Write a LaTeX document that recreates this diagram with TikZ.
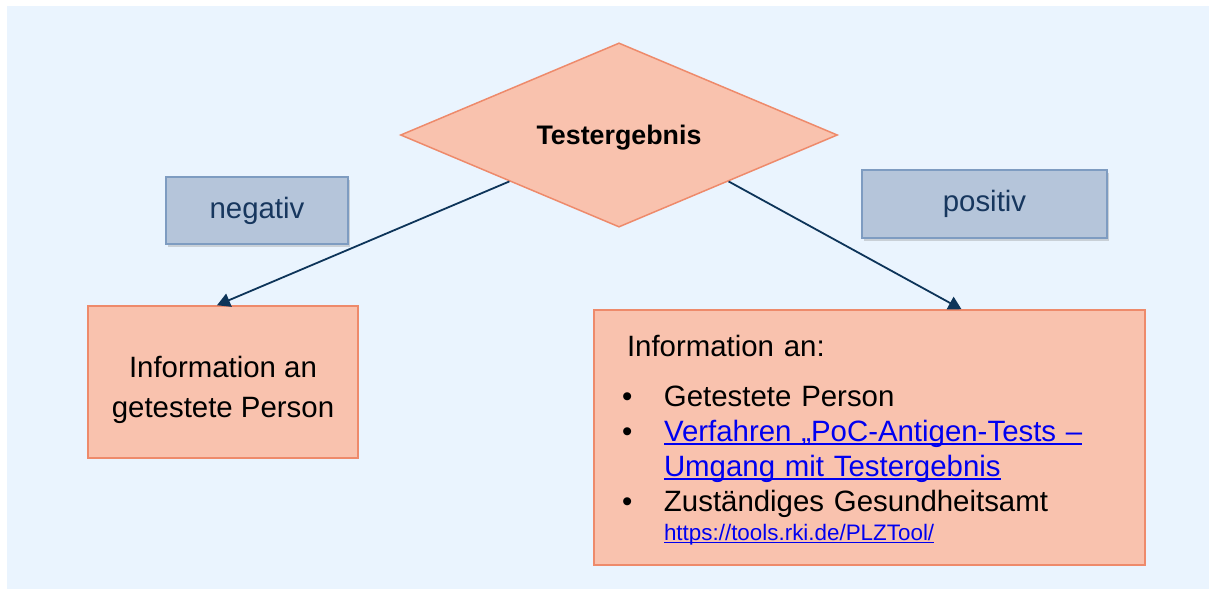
\documentclass[tikz,border=0pt]{standalone}
\usepackage{fontspec}
\setmainfont{Liberation Sans}
\usetikzlibrary{arrows.meta,shapes.geometric,shadows}

\definecolor{bgblue}{HTML}{EAF4FE}
\definecolor{boxfill}{HTML}{F9C2AE}
\definecolor{boxline}{HTML}{EE8A6B}
\definecolor{tagfill}{HTML}{B5C5DA}
\definecolor{tagline}{HTML}{7E9CC1}
\definecolor{tagtext}{HTML}{17375E}
\definecolor{linenavy}{HTML}{0D3459}
\definecolor{linkblue}{HTML}{0000F0}

\newsavebox{\linkbox}
\newcommand{\itembullet}{\makebox[18.5pt][l]{\hspace*{-2.5pt}\textbullet}}
\newcommand{\weblink}[1]{\sbox{\linkbox}{\color{linkblue}#1}%
  {\color{linkblue}\rlap{\rule[-0.1em]{\wd\linkbox}{0.055em}}}\usebox{\linkbox}}

\begin{document}
\begin{tikzpicture}[
  x=0.5pt, y=-0.5pt,
  decision/.style={diamond, draw=boxline, fill=boxfill, line width=0.75pt, inner sep=0pt,
    minimum width=218.5pt, minimum height=89pt, text depth=0pt,
    font=\bfseries\fontsize{13.4}{16}\selectfont},
  box/.style={draw=boxline, fill=boxfill, line width=0.75pt, align=center, inner sep=0pt,
    font=\fontsize{14.7}{17.5}\selectfont},
  tag/.style={draw=tagline, fill=tagfill, text=tagtext, line width=0.6pt, inner sep=0pt,
    drop shadow={shadow xshift=1pt, shadow yshift=-1.5pt, opacity=0.3},
    font=\fontsize{14.7}{17.5}\selectfont},
  arrow/.style={-{Triangle[length=6.5pt, width=7pt]}, draw=linenavy, line width=0.9pt}
]
\useasboundingbox (0,0) rectangle (1209,590);
\fill[bgblue] (7,6) rectangle (1209,589);

% decision and branch labels
\node[decision] (result) at (619,135) {Testergebnis};
\node[tag, minimum width=91pt, minimum height=33.5pt] (neg) at (257,210.5) {negativ};
\node[tag, minimum width=122.5pt, minimum height=34pt] (pos) at (984.5,204) {positiv};

% outcomes
\node[box, minimum width=135pt, minimum height=76pt, text height=38.3pt, text depth=3pt] (negbox) at (223,382)
  {Information an\\[2.5pt]getestete Person};
\node[box, align=left, text width=242.5pt, inner xsep=16.5pt, minimum height=127.5pt,
      text height=12pt, text depth=92.8pt] (posbox) at (869.5,437.5)
  {Information an:\\[7.5pt]
   \itembullet Getestete Person\\
   \itembullet\weblink{Verfahren „PoC-Antigen-Tests –}\\
   \hspace*{18.5pt}\weblink{Umgang mit Testergebnis}\\
   \itembullet Zuständiges Gesundheitsamt\\[-3pt]
   \hspace*{18.5pt}{\fontsize{11.2}{13}\selectfont\weblink{https://tools.rki.de/PLZTool/}}};

\draw[arrow] (result.south west) -- ([xshift=-3pt]negbox.north);
\draw[arrow] (result.south east) -- ([xshift=46pt]posbox.north);
\end{tikzpicture}
\end{document}
